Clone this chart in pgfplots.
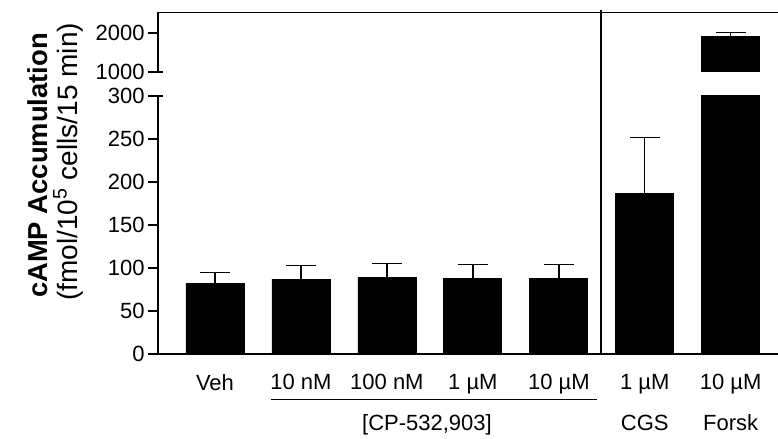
\documentclass[border=0pt]{standalone}
\usepackage{fontspec}
\setmainfont{Liberation Sans}
\usepackage{pgfplots}
\pgfplotsset{compat=1.18}
\pgfplotstableread{
x y err
0 82 12.5
1 87 16
2 89 16
3 88 16
4 88 16
5 187 65
6 1905 110
}\camp
\pgfplotstableread{
x y err
6 1905 110
}\forsk
\begin{document}
\begin{tikzpicture}[x=1pt,y=1pt]
\useasboundingbox (0,0) rectangle (389,219.5);
\pgfplotsset{common/.style={
  scale only axis, width=310pt, xmin=-0.663, xmax=6.55,
  axis line style={line width=0.7pt, black},
  tick style={line width=0.7pt, black},
  tick align=outside, major tick length=5pt,
  y tick label style={font=\fontsize{11}{13}\selectfont, /pgf/number format/1000 sep={}, /pgf/number format/assume math mode=true, inner sep=1.5pt},
  clip=true,
}}
\pgfplotsset{barplot/.style={ybar, bar width=29pt, fill=black, draw=black, line width=0.4pt,
  error bars/.cd, y dir=plus, y explicit, error mark=|,
  error bar style={line width=0.7pt, black},
  error mark options={mark size=7.5pt, line width=0.7pt, black}}}
% lower segment
\begin{axis}[common, at={(79pt,42.5pt)}, anchor=south west, height=129pt,
  ymin=0, ymax=300, ytick={0,50,...,300},
  axis x line*=bottom, axis y line*=left,
  xtick={0,...,6}, xtick style={draw=none},
  xticklabels={Veh,10 nM,100 nM,1 µM,10 µM,{1 µM\\CGS},{10 µM\\Forsk}},
  xticklabel style={anchor=north, align=center, inner sep=0pt, font=\fontsize{11}{20.5}\selectfont, yshift=-5pt},
]
\addplot[barplot] table[x=x, y=y, y error=err] {\camp};
\end{axis}
% upper segment
\begin{axis}[common, at={(79pt,183.5pt)}, anchor=south west, height=29.75pt,
  ymin=1000, ymax=2526, ytick={1000,2000},
  axis x line*=top, axis y line*=left, xtick=\empty,
]
\addplot[barplot] table[x=x, y=y, y error=err] {\forsk};
\end{axis}
% break ends and separator
\draw[line width=0.7pt] (79,183.5) -- ++(2.5,0);
\draw[line width=0.7pt] (79,171.5) -- ++(2.5,0);
\draw[line width=0.7pt] (300.5,214.4) -- (300.5,42.5);
% group line and label
\draw[line width=0.7pt] (135.3,19.85) -- (298.3,19.85);
\node[anchor=base, inner sep=0pt, font=\fontsize{11}{13}\selectfont] at (213.5,4) {[CP-532,903]};
% y label
\node[rotate=90, anchor=base, inner sep=0pt, font=\fontsize{13.7}{15}\selectfont\bfseries] at (23.5,136.75) {cAMP Accumulation};
\node[rotate=90, anchor=base, inner sep=0pt, font=\fontsize{14}{15}\selectfont] at (38.5,138.5) {(fmol/10\textsuperscript{5} cells/15 min)};
\end{tikzpicture}
\end{document}
